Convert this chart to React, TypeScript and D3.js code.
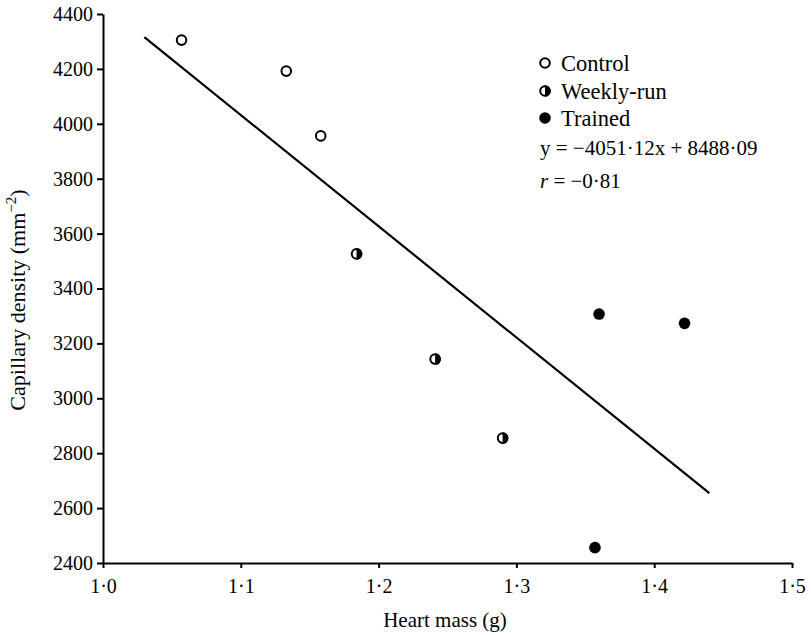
import React, { useEffect, useRef } from "react";
import * as d3 from "d3";

// heart mass (g) and capillary density (mm^-2)
const controlMass = [1.057, 1.133, 1.158];
const controlDensity = [4305, 4192, 3956];
const weeklyMass = [1.184, 1.241, 1.29];
const weeklyDensity = [3526, 3143, 2855];
const trainedMass = [1.36, 1.422, 1.357];
const trainedDensity = [3307, 3273, 2456];

const slope = -4051.12;
const intercept = 8488.09;
const fitRange = [1.03, 1.44];

const xTicks = [1.0, 1.1, 1.2, 1.3, 1.4, 1.5];
const yTicks = [2400, 2600, 2800, 3000, 3200, 3400, 3600, 3800, 4000, 4200, 4400];
const legendLabels = ["Control", "Weekly-run", "Trained"];

const W = 811;
const H = 635;
const FONT = "'Liberation Serif', 'Times New Roman', serif";
const R = 5.8;

export default function App() {
  const ref = useRef<SVGSVGElement>(null);

  useEffect(() => {
    const svg = d3.select(ref.current);
    svg.selectAll("*").remove();

    const x = d3.scaleLinear().domain([1.0, 1.5]).range([103, 792]);
    const y = d3.scaleLinear().domain([2400, 4400]).range([563, 14]);

    const halfArc = d3.arc<any>()
      .innerRadius(0)
      .outerRadius(R)
      .startAngle(0)
      .endAngle(Math.PI);

    // axes
    const xAxis = d3.axisBottom(x)
      .tickValues(xTicks)
      .tickSize(5)
      .tickSizeOuter(0)
      .tickPadding(11)
      .tickFormat(d => d3.format(".1f")(d as number).replace(".", "·"));
    const yAxis = d3.axisLeft(y)
      .tickValues(yTicks)
      .tickSize(6)
      .tickSizeOuter(0)
      .tickPadding(4)
      .tickFormat(d => String(d));

    const gx = svg.append("g").attr("transform", `translate(0,${y(2400)})`).call(xAxis);
    const gy = svg.append("g").attr("transform", `translate(${x(1.0)},0)`).call(yAxis);
    [gx, gy].forEach(g => {
      g.selectAll("path, line").attr("stroke", "#000").attr("stroke-width", 2);
      g.selectAll("text")
        .attr("fill", "#000")
        .style("font-family", FONT)
        .style("font-size", "20px");
    });

    // regression line
    svg.append("line")
      .attr("x1", x(fitRange[0]))
      .attr("y1", y(slope * fitRange[0] + intercept))
      .attr("x2", x(fitRange[1]))
      .attr("y2", y(slope * fitRange[1] + intercept))
      .attr("stroke", "#000")
      .attr("stroke-width", 2.2);

    const drawMarker = (g: any, cx: number, cy: number, kind: number) => {
      if (kind === 2) {
        g.append("circle").attr("cx", cx).attr("cy", cy).attr("r", R).attr("fill", "#000");
        return;
      }
      g.append("circle").attr("cx", cx).attr("cy", cy).attr("r", R - 1)
        .attr("fill", "#fff").attr("stroke", "#000").attr("stroke-width", 2);
      if (kind === 1) {
        g.append("path").attr("d", halfArc({})).attr("transform", `translate(${cx},${cy})`).attr("fill", "#000");
      }
    };

    const pts = svg.append("g");
    controlMass.forEach((m, i) => drawMarker(pts, x(m), y(controlDensity[i]), 0));
    weeklyMass.forEach((m, i) => drawMarker(pts, x(m), y(weeklyDensity[i]), 1));
    trainedMass.forEach((m, i) => drawMarker(pts, x(m), y(trainedDensity[i]), 2));

    // legend
    const legend = svg.append("g");
    const rowY = [63, 91, 118];
    legendLabels.forEach((lab, i) => {
      drawMarker(legend, 545, rowY[i], i);
      legend.append("text")
        .attr("x", 561).attr("y", rowY[i]).attr("dy", "0.35em")
        .style("font-family", FONT).style("font-size", "22.5px")
        .attr("fill", "#000")
        .text(lab);
    });
    legend.append("text")
      .attr("x", 540).attr("y", 148).attr("dy", "0.35em")
      .style("font-family", FONT).style("font-size", "21px")
      .attr("fill", "#000")
      .text(`y = −${Math.abs(slope).toFixed(2).replace(".", "·")}x + ${intercept.toFixed(2).replace(".", "·")}`);
    const rText = legend.append("text")
      .attr("x", 540).attr("y", 181).attr("dy", "0.35em")
      .style("font-family", FONT).style("font-size", "21px")
      .attr("fill", "#000");
    rText.append("tspan").style("font-style", "italic").text("r");
    rText.append("tspan").text(" = −0·81");

    // axis titles
    svg.append("text")
      .attr("x", 445).attr("y", 620).attr("dy", "0.35em")
      .attr("text-anchor", "middle")
      .style("font-family", FONT).style("font-size", "21px")
      .attr("fill", "#000")
      .text("Heart mass (g)");

    const yl = svg.append("text")
      .attr("transform", "translate(25,300) rotate(-90)")
      .attr("text-anchor", "middle")
      .style("font-family", FONT).style("font-size", "22px")
      .attr("fill", "#000");
    yl.append("tspan").text("Capillary density (mm");
    yl.append("tspan").attr("dy", -9).style("font-size", "15px").text("−2");
    yl.append("tspan").attr("dy", 9).text(")");
  }, []);

  return (
    <div style={{ position: "absolute", left: 0, top: 0 }}>
      <svg ref={ref} width={W} height={H} style={{ display: "block", background: "#fff" }} />
    </div>
  );
}
